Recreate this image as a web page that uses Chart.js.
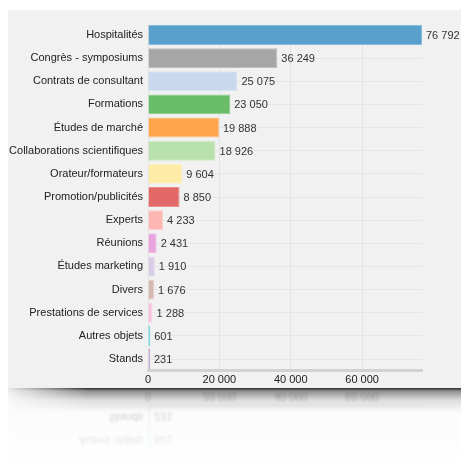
<!DOCTYPE html>
<html>
<head>
<meta charset="utf-8">
<script src="https://cdn.jsdelivr.net/npm/chart.js@4/dist/chart.umd.min.js"></script>
<style>
  html, body { margin: 0; padding: 0; background: #ffffff; width: 461px; height: 469px; overflow: hidden; }
  #panel { position: absolute; left: 8px; top: 10px; width: 470px; height: 378px; background: #f1f1f1; z-index: 2; }
  #shadow { position: absolute; left: 8px; top: 388px; width: 470px; height: 24px; z-index: 3;
    background: linear-gradient(to bottom, rgba(30,30,30,0.95) 0px, rgba(70,70,70,0.6) 3px, rgba(140,140,140,0.28) 12px, rgba(255,255,255,0) 24px);
    -webkit-mask-image: linear-gradient(to right, rgba(0,0,0,0.1) 0px, rgba(0,0,0,1) 80px);
    mask-image: linear-gradient(to right, rgba(0,0,0,0.1) 0px, rgba(0,0,0,1) 80px); }
  #main { position: absolute; left: 0; top: 0; width: 461px; height: 388px; z-index: 4; }
  #reflWrap { position: absolute; left: 0; top: 388px; width: 461px; height: 388px; z-index: 1;
    transform: scaleY(-1); opacity: 0.4; filter: blur(0.8px);
    -webkit-mask-image: linear-gradient(to top, rgba(0,0,0,0.9) 0px, rgba(0,0,0,0) 80px);
    mask-image: linear-gradient(to top, rgba(0,0,0,0.9) 0px, rgba(0,0,0,0) 80px); }
  #reflBg { position: absolute; left: 8px; top: 10px; width: 470px; height: 378px; background: #f1f1f1; }
  #refl { position: absolute; left: 0; top: 0; width: 461px; height: 388px; }
</style>
</head>
<body>
<div id="reflWrap"><div id="reflBg"></div><canvas id="refl" width="461" height="388"></canvas></div>
<div id="panel"></div>
<div id="shadow"></div>
<canvas id="main" width="461" height="388"></canvas>
<script>
const categories = [
  "Hospitalités", "Congrès - symposiums", "Contrats de consultant", "Formations",
  "Études de marché", "Collaborations scientifiques", "Orateur/formateurs",
  "Promotion/publicités", "Experts", "Réunions", "Études marketing", "Divers",
  "Prestations de services", "Autres objets", "Stands"
];
const values = [76792, 36249, 25075, 23050, 19888, 18926, 9604, 8850, 4233, 2431, 1910, 1676, 1288, 601, 231];
const barColors = [
  "#5aa0cd", "#a6a6a6", "#c8d9ee", "#69bd69", "#ffa64d", "#b8e1ad", "#fdeba6",
  "#e36868", "#ffb7b3", "#e9a4dd", "#d8cbe5", "#d5b9b1", "#f8c4dc", "#52cfdc", "#b79ac9"
];
const borderColors = [
  "#86bbdd", "#bdbdbd", "#d9e5f3", "#8ccd8c", "#ffbd80", "#cdeac4", "#fdf1c2",
  "#ec9090", "#ffcdca", "#f0bfe7", "#e4dbee", "#e2cdc7", "#fad6e6", "#52cfdc", "#b79ac9"
];
const xTicks = [0, 20000, 40000, 60000];

const FONT = "'Liberation Sans', Arial, Helvetica, sans-serif";
function fmt(v) { return String(v).replace(/\B(?=(\d{3})+(?!\d))/g, " "); }

const valueLabels = {
  id: "valueLabels",
  afterDatasetsDraw(chart) {
    const ctx = chart.ctx;
    const meta = chart.getDatasetMeta(0);
    ctx.save();
    ctx.font = "11px " + FONT;
    ctx.fillStyle = "#333333";
    ctx.textAlign = "left";
    ctx.textBaseline = "middle";
    meta.data.forEach((bar, i) => {
      ctx.fillText(fmt(values[i]), bar.x + 4, bar.y + 1);
    });
    ctx.restore();
  }
};

function makeChart(id) {
  return new Chart(document.getElementById(id), {
    type: "bar",
    data: {
      labels: categories,
      datasets: [{
        data: values,
        backgroundColor: barColors,
        borderColor: borderColors,
        borderWidth: 1,
        minBarLength: 2,
        barPercentage: 0.86,
        categoryPercentage: 1.0
      }]
    },
    options: {
      indexAxis: "y",
      responsive: false,
      animation: false,
      devicePixelRatio: 1,
      layout: { padding: { top: 23.4, right: 39, left: 0, bottom: 0 } },
      plugins: { legend: { display: false }, tooltip: { enabled: false } },
      scales: {
        x: {
          min: 0,
          max: Math.max(...values),
          afterFit(scale) { scale.height = 17.4; },
          afterBuildTicks(scale) { scale.ticks = xTicks.map(v => ({ value: v })); },
          grid: { color: "#e3e3e3", lineWidth: 1, drawTicks: false },
          border: { display: true, color: "#d2d2d2", width: 3 },
          ticks: {
            padding: 3,
            color: "#222222",
            font: { family: FONT, size: 11 },
            callback: (v) => fmt(v)
          }
        },
        y: {
          afterFit(scale) { scale.width = 148; },
          grid: { color: "#e6e6e6", lineWidth: 1, offset: false, drawTicks: false },
          border: { display: false },
          ticks: {
            padding: 5,
            color: "#222222",
            font: { family: FONT, size: 11 },
            autoSkip: false
          }
        }
      }
    },
    plugins: [valueLabels]
  });
}

makeChart("main");
makeChart("refl");
</script>
</body>
</html>
